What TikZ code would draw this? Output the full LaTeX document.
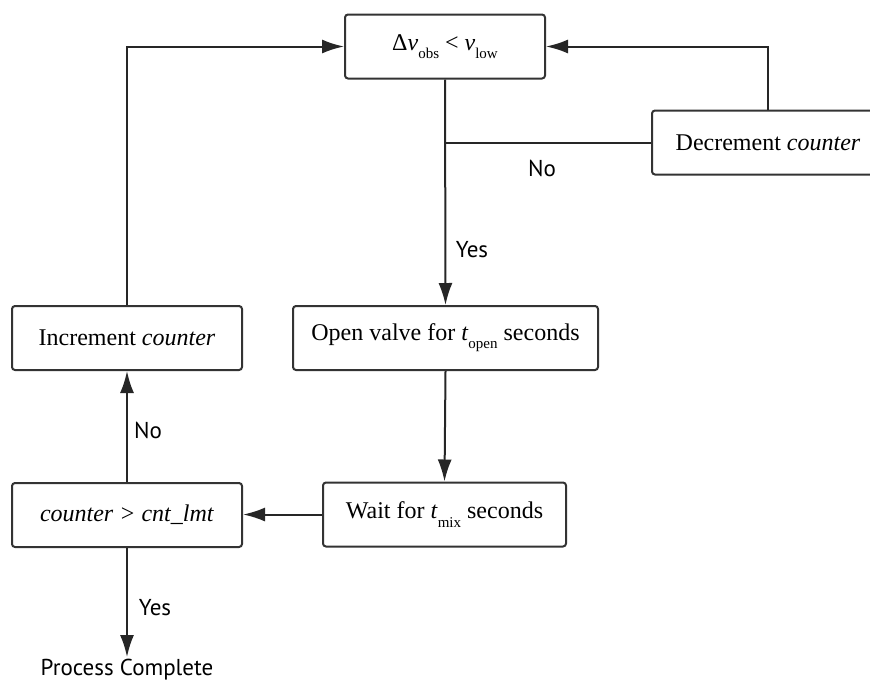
\documentclass[tikz,border=0pt]{standalone}
\usepackage{fontspec}
\setmainfont{Liberation Serif}
\newfontfamily\labelfont{PT Sans}
\usepackage{tikz}
\usetikzlibrary{arrows.meta}

% small lowered subscripts as in the original
\newcommand{\lowsub}[1]{\raisebox{-0.75ex}{\fontsize{7.5}{8}\selectfont #1}}

\begin{document}
\begin{tikzpicture}[x=0.5pt,y=-0.5pt,
    box/.style={draw=black!80, line width=1pt, rounded corners=1.5pt,
      minimum height=32pt, inner sep=0pt, font=\fontsize{12}{14}\selectfont},
    lbl/.style={font=\labelfont\fontsize{11.5}{13}\selectfont, inner sep=1pt},
    flow/.style={line width=1pt, black!85},
    arr/.style={flow, -{Latex[length=11pt,width=7pt]}}]
  \clip (0,0) rectangle (870,680);

  % boxes
  \node[box, minimum width=100pt] (cond) at (445,46.5)
    {Δ\textit{v}\lowsub{obs} < \textit{v}\lowsub{low}};
  \node[box, minimum width=116pt] (decr) at (768,142.5)
    {Decrement \textit{counter}};
  \node[box, minimum width=115pt] (incr) at (127,338)
    {Increment \textit{counter}};
  \node[box, minimum width=152.5pt] (open) at (445.5,338)
    {Open valve for \textit{t}\lowsub{open} seconds};
  \node[box, minimum width=121.5pt] (wait) at (444.5,514.5)
    {Wait for \textit{t}\lowsub{mix} seconds};
  \node[box, minimum width=115pt] (cnt) at (127,515)
    {\textit{counter > cnt\_lmt}};
  \node[lbl, anchor=north] (done) at (127,657) {Process Complete};

  % connectors
  \draw[arr] (cond.south) -- (open.north);
  \draw[flow] (decr.west) -- (decr.west -| cond.south);
  \draw[arr] (decr.north) |- (cond.east);
  \draw[arr] (incr.north) |- (cond.west);
  \draw[arr] (open.south) -- (wait.north);
  \draw[arr] (wait.west) -- (wait.west -| cnt.east);
  \draw[arr] (cnt.north) -- (incr.south);
  \draw[arr] (cnt.south) -- (done.north);

  % yes / no labels
  \node[lbl] (no1) at (542,168) {No};
  \node[lbl] (yes1) at (472,250) {Yes};
  \node[lbl] (no2) at (148,430) {No};
  \node[lbl] (yes2) at (155,608) {Yes};
\end{tikzpicture}
\end{document}
